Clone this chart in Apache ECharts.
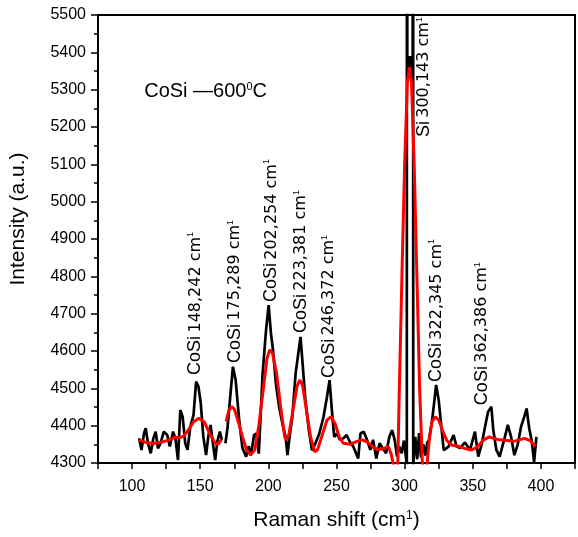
<!DOCTYPE html>
<html>
<head>
<meta charset="utf-8">
<script src="https://cdn.jsdelivr.net/npm/echarts@6/dist/echarts.min.js"></script>
<style>
  html, body { margin: 0; padding: 0; background: #fff; }
  #main { width: 578px; height: 537px; }
</style>
</head>
<body>
<div id="main"></div>
<script>
// raw spectrum (black)
const rawShift = [105.2, 106.9, 108.8, 110, 111.7, 113.7, 115.6, 117.3, 119, 120.9, 123.3, 125.8, 127.7, 130.1, 131.8, 133.7, 135.4, 137.1, 139, 140.7, 142.7, 145.1, 147, 148.7, 150.4, 152.3, 154.3, 155.9, 157.6, 159.6, 161, 162.5, 164.4, 165.9, 167,
  168.5, 170, 171.6, 174, 176, 177.5, 179, 181, 183.7, 185.5, 187.4, 189.5, 191, 193, 195.8, 198.3, 200.2, 201.9, 203.5, 205.5, 207.9, 210.3, 212.7, 214, 215.6, 217.6, 220, 223.6, 225.3, 227.2, 229.7, 232, 234.5, 237.4, 240.5, 243, 244.9, 246.6, 248.3,
  250.2, 252.6, 255, 257.4, 259.8, 262.3, 265.9, 267.6, 270, 272.4, 274.8, 276.8, 279.2, 281.6, 284, 286.4, 288.8, 290.8, 292.7, 294.4, 296.1, 297.8, 299.5, 300.5,
  301.6, 301.75, 301.95, 302.6, 303.3, 304, 304.6, 305.3, 305.9, 306.1, 306.3,
  307.8, 309.2, 310.6, 312, 313.6, 315.2, 316.6, 317.8, 320.2, 323.1, 325, 326.3, 328.7,
  332.2, 335.9, 338, 340.7, 344.3, 348, 351.6, 354, 356.5, 358.8, 361.2, 363.6, 365, 367.3, 369.7, 373.3, 375.7, 378.1, 380.5, 383, 385.4, 387.8, 389.5, 391.4, 393.2, 395, 396.7]
const rawIntensity = [4366, 4335, 4380, 4393, 4353, 4326, 4366, 4384, 4339, 4353, 4384, 4375, 4344, 4384, 4366, 4308, 4442, 4424, 4353, 4335, 4397, 4429, 4518, 4505, 4460, 4370, 4321, 4370, 4402, 4344, 4308, 4357, 4384, 4362, null,
  4353, 4393, 4460, 4558, 4522, 4460, 4400, 4340, 4317, 4345, 4325, 4375, 4379, 4325, 4540, 4656, 4723, 4647, 4600, 4513, 4450, 4406, 4370, 4321, 4370, 4424, 4540, 4638, 4558, 4468, 4388, 4334, 4352, 4379, 4424, 4477, 4522, 4442, 4370,
  4379, 4362, 4366, 4375, 4357, 4344, 4312, 4379, 4384, 4362, 4335, 4362, 4312, 4353, 4339, 4326, 4370, 4388, 4362, 4317, 4344, 4326, 4360, 4330,
  4295, 9000, 5340, 5390, 5330, 5390, 5330, 5390, 5340, 9000, 4295,
  4370, 4310, 4380, 4315, 4350, 4320, 4355, 4361, 4415, 4509, 4468, 4420, 4334,
  4344, 4375, 4345, 4340, 4355, 4335, 4384, 4317, 4350, 4393, 4437, 4451, 4390, 4335, 4317, 4366, 4402, 4370, 4321, 4350, 4397, 4424, 4446, 4393, 4360, 4303, 4370]

// smoothed fit (red)
const fitShift = [105, 110, 116, 122, 127, 131, 135, 138, 142, 145, 149, 153, 157, 161, 163, 165.5, 167,
  169, 171, 173, 175, 178, 181, 184, 187, 190, 193, 196, 199, 201, 203, 206, 209, 212, 213, 215, 218, 221, 223, 225, 228, 231, 234, 236, 240, 243, 246, 249, 252, 255,
  260, 265, 269, 273, 277, 281, 285, 288, 290, 291.5, 292.5, 294, 295, 296, 298, 300, 302, 303.5, 305, 307, 309, 311, 313, 314, 315.5, 316.5, 318, 320, 322.5, 325, 328, 331, 334.5,
  340, 345, 349, 352, 355, 358, 362, 366, 370, 375, 380, 384, 388, 392, 396]
const fitIntensity = [4362, 4355, 4352, 4356, 4362, 4368, 4368, 4372, 4392, 4410, 4420, 4410, 4378, 4353, 4350, 4362, null,
  4411, 4440, 4451, 4445, 4410, 4370, 4335, 4321, 4335, 4400, 4490, 4580, 4603, 4595, 4540, 4450, 4370, 4362, 4375, 4440, 4505, 4522, 4510, 4440, 4370, 4330, 4335, 4380, 4415, 4424, 4405, 4370, 4353,
  4350, 4358, 4362, 4355, 4342, 4335, 4340, 4344, 4325, 4300, 4250, 4250, 4300, 4480, 4800, 5100, 5320, 5360, 5320, 5100, 4800, 4500, 4300, 4240, 4240, 4300, 4360, 4410, 4424, 4415, 4385, 4360, 4348,
  4344, 4338, 4335, 4340, 4350, 4362, 4370, 4365, 4362, 4360, 4358, 4362, 4366, 4360, 4344]

// peak labels: [shift, intensity at label start, compound, position]
const peakLabels = [
  [146.5, 4536, 'CoSi', '148,242'],
  [175.5, 4568, 'CoSi', '175,289'],
  [202.3, 4731, 'CoSi', '202,254'],
  [224.1, 4648, 'CoSi', '223,381'],
  [244.4, 4528, 'CoSi', '246,372'],
  [313.9, 5173, 'Si', '300,143'],
  [323.3, 4517, 'CoSi', '322,345'],
  [356.6, 4455, 'CoSi', '362,386']
]

const xTicks = [100, 150, 200, 250, 300, 350, 400]

function toPairs(xs, ys) {
  return xs.map((x, i) => [x, ys[i] === null ? '-' : ys[i]])
}

const chart = echarts.init(document.getElementById('main'))
const axisFont = 'Liberation Sans, Arial, sans-serif'

const option = {
  animation: false,
  grid: {
    left: 98, top: 15, width: 483, height: 448,
    show: true, borderColor: '#000', borderWidth: 2, backgroundColor: 'transparent'
  },
  xAxis: {
    type: 'value', min: 75, max: 425, interval: 25,
    name: 'Raman shift (cm{s|1})',
    nameLocation: 'middle', nameGap: 47,
    nameTextStyle: {
      fontSize: 21, fontFamily: axisFont, color: '#000',
      rich: { s: { fontSize: 12, verticalAlign: 'top', fontFamily: axisFont, color: '#000' } }
    },
    axisLine: { onZero: false, lineStyle: { color: '#000', width: 2 } },
    axisTick: { length: 6, lineStyle: { color: '#000', width: 1.5 } },
    axisLabel: {
      margin: 16, fontSize: 16, fontFamily: axisFont, color: '#000',
      formatter: v => xTicks.indexOf(v) >= 0 ? String(v) : ''
    },
    splitLine: { show: false }
  },
  yAxis: {
    type: 'value', min: 4300, max: 5500, interval: 100,
    axisLine: { show: true, lineStyle: { color: '#000', width: 2 } },
    axisTick: { length: 7, lineStyle: { color: '#000', width: 1.5 } },
    minorTick: { show: true, splitNumber: 2, length: 4, lineStyle: { color: '#000', width: 1.5 } },
    axisLabel: { margin: 12, fontSize: 16, fontFamily: axisFont, color: '#000', formatter: v => String(v) },
    splitLine: { show: false }
  },
  series: [
    {
      type: 'line', data: toPairs(rawShift, rawIntensity),
      symbol: 'none', connectNulls: false, clip: true,
      lineStyle: { color: '#000', width: 2.7 }
    },
    {
      type: 'line', data: toPairs(fitShift, fitIntensity),
      symbol: 'none', connectNulls: false, clip: true,
      lineStyle: { color: '#ff0000', width: 3 }
    }
  ]
}
chart.setOption(option)

// text annotations, placed through the axes
const labelRich = {
  a: { fontSize: 18, fontFamily: axisFont, fill: '#000' },
  b: { fontSize: 16, fontFamily: 'DejaVu Sans, sans-serif', fill: '#000' },
  s: { fontSize: 9, fontFamily: axisFont, fill: '#000', verticalAlign: 'top' }
}
const graphics = peakLabels.map(p => {
  const pt = chart.convertToPixel({ gridIndex: 0 }, [p[0], p[1]])
  return {
    type: 'text', x: pt[0], y: pt[1], rotation: Math.PI / 2, z: 10,
    style: {
      text: '{a|' + p[2] + '} {b|' + p[3] + ' cm}{s|1}',
      rich: labelRich, align: 'left', verticalAlign: 'middle'
    }
  }
})
const titlePt = chart.convertToPixel({ gridIndex: 0 }, [108.9, 5295])
graphics.push({
  type: 'text', x: titlePt[0], y: titlePt[1], z: 10,
  style: {
    text: '{a|CoSi \u2014600}{s|0}{a|C}',
    rich: {
      a: { fontSize: 20, fontFamily: axisFont, fill: '#000' },
      s: { fontSize: 11, fontFamily: axisFont, fill: '#000', verticalAlign: 'top' }
    },
    align: 'left', verticalAlign: 'middle'
  }
})
graphics.push({
  type: 'text', x: 18, y: 219, rotation: Math.PI / 2,
  style: {
    text: 'Intensity (a.u.)', font: '21px Liberation Sans, Arial, sans-serif',
    fill: '#000', align: 'center', verticalAlign: 'middle'
  }
})
chart.setOption({ graphic: graphics })
</script>
</body>
</html>
